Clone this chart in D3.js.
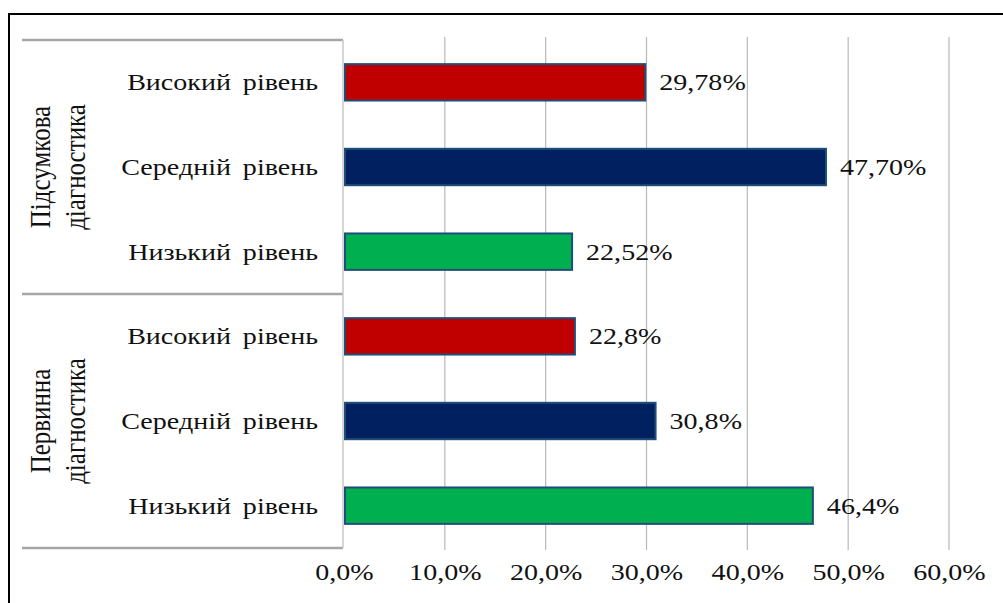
<!DOCTYPE html>
<html>
<head>
<meta charset="utf-8">
<script src="https://cdn.jsdelivr.net/npm/d3@7/dist/d3.min.js"></script>
<style>
  body { margin: 0; background: #fff; }
</style>
</head>
<body>
<div id="chart"></div>
<script>
// data, top to bottom as in the picture
const groups = ["Підсумкова діагностика", "Первинна діагностика"];
const levels = ["Високий рівень", "Середній рівень", "Низький рівень"];
const finalValues = [29.78, 47.70, 22.52];
const initialValues = [22.8, 30.8, 46.4];
const finalLabels = ["29,78%", "47,70%", "22,52%"];
const initialLabels = ["22,8%", "30,8%", "46,4%"];
const xTicks = [0, 10, 20, 30, 40, 50, 60];
const levelColors = ["#c00000", "#002060", "#00b050"];

const width = 1003, height = 603;
const margin = { top: 40, right: 54, bottom: 55, left: 344 };
const serif = "'Liberation Serif', 'Times New Roman', 'DejaVu Serif', serif";
const stretch = 1.22; // the picture is a bit wider than tall

const rows = [];
groups.forEach((g, gi) => {
  const vals = gi === 0 ? finalValues : initialValues;
  const labs = gi === 0 ? finalLabels : initialLabels;
  levels.forEach((l, li) => {
    rows.push({ key: g + "|" + l, group: g, level: l, li: li, value: vals[li], label: labs[li] });
  });
});

const svg = d3.select("#chart").append("svg")
  .attr("width", width)
  .attr("height", height);

// outer frame (only top and left visible)
svg.append("path")
  .attr("d", `M9,${height} V14 H${width}`)
  .attr("fill", "none")
  .attr("stroke", "#000")
  .attr("stroke-width", 2);

const x = d3.scaleLinear()
  .domain([0, 60])
  .range([margin.left, width - margin.right]);

const y = d3.scaleBand()
  .domain(rows.map(d => d.key))
  .range([margin.top, height - margin.bottom])
  .paddingInner(0.57)
  .paddingOuter(0.285);

// gridlines
svg.append("g")
  .selectAll("line")
  .data(xTicks.slice(1))
  .enter().append("line")
  .attr("x1", d => x(d)).attr("x2", d => x(d))
  .attr("y1", margin.top - 3).attr("y2", height - margin.bottom + 2)
  .attr("stroke", "#b8b8b8")
  .attr("stroke-width", 1.2);

// category box: separators and right edge
const groupEdges = [margin.top, margin.top + (height - margin.bottom - margin.top) / 2, height - margin.bottom];
svg.append("g")
  .selectAll("line")
  .data(groupEdges)
  .enter().append("line")
  .attr("x1", 22).attr("x2", margin.left - 1)
  .attr("y1", d => d).attr("y2", d => d)
  .attr("stroke", "#a6a6a6")
  .attr("stroke-width", 2.5);

svg.append("line")
  .attr("x1", margin.left - 1).attr("x2", margin.left - 1)
  .attr("y1", margin.top).attr("y2", height - margin.bottom)
  .attr("stroke", "#c8c8c8")
  .attr("stroke-width", 1.5);

// bars
svg.append("g")
  .selectAll("rect")
  .data(rows)
  .enter().append("rect")
  .attr("x", x(0) + 1)
  .attr("y", d => y(d.key))
  .attr("width", d => x(d.value) - x(0))
  .attr("height", y.bandwidth())
  .attr("fill", d => levelColors[d.li])
  .attr("stroke", "#1f4e79")
  .attr("stroke-width", 2);

// value labels
svg.append("g")
  .selectAll("text")
  .data(rows)
  .enter().append("text")
  .attr("transform", d => `translate(${x(d.value) + 15},${y(d.key) + y.bandwidth() / 2}) scale(${stretch},1)`)
  .attr("dy", "0.35em")
  .attr("font-family", serif)
  .attr("font-size", 23)
  .attr("fill", "#111")
  .text(d => d.label);

// level labels
svg.append("g")
  .selectAll("text")
  .data(rows)
  .enter().append("text")
  .attr("transform", d => `translate(318,${y(d.key) + y.bandwidth() / 2}) scale(${stretch},1)`)
  .attr("dy", "0.35em")
  .attr("text-anchor", "end")
  .attr("font-family", serif)
  .attr("font-size", 23)
  .attr("fill", "#111")
  .attr("word-spacing", 4)
  .text(d => d.level);

// group labels, rotated, two lines each
groups.forEach((g, gi) => {
  const cy = (groupEdges[gi] + groupEdges[gi + 1]) / 2;
  const words = g.split(" ");
  const t = svg.append("text")
    .attr("transform", `translate(50,${cy}) scale(${stretch},1) rotate(-90)`)
    .attr("text-anchor", "middle")
    .attr("font-family", serif)
    .attr("font-size", 25)
    .attr("fill", "#111");
  words.forEach((w, wi) => {
    t.append("tspan")
      .attr("x", 0)
      .attr("y", wi === 0 ? 0 : 29)
      .text(w);
  });
});

// x axis labels
const xAxis = d3.axisBottom(x)
  .tickValues(xTicks)
  .tickSize(0)
  .tickPadding(0)
  .tickFormat(d => d.toFixed(1).replace(".", ",") + "%");

svg.append("g")
  .attr("transform", `translate(0,${height - margin.bottom})`)
  .call(xAxis)
  .call(g => g.select(".domain").remove())
  .call(g => g.selectAll("text")
    .attr("y", 0)
    .attr("dy", 0)
    .attr("transform", `translate(0,32) scale(${stretch},1)`)
    .attr("font-family", serif)
    .attr("font-size", 23)
    .attr("fill", "#111"));
</script>
</body>
</html>
